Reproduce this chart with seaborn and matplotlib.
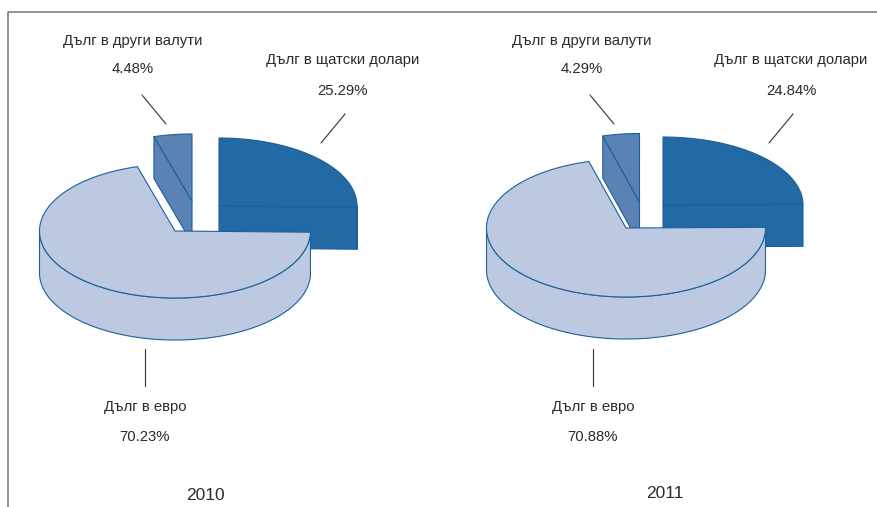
# python

import numpy as np
import matplotlib
matplotlib.use('Agg')
import matplotlib.pyplot as plt
import seaborn as sns

years = ['2010', '2011']
categories = ['Дълг в щатски долари', 'Дълг в евро', 'Дълг в други валути']
shares_2010 = [25.29, 70.23, 4.48]
shares_2011 = [24.84, 70.88, 4.29]

# layout of the picture, in pixels: centre x, centre y, radius x, radius y
geometry_2010 = [(219, 206, 138, 68), (175, 231, 135.5, 67), (192, 201, 137, 67)]
geometry_2011 = [(663, 205, 140, 68), (626, 228, 139.5, 69), (639.5, 202, 138, 68.5)]
depth = 42
colors = ['#2369a4', '#bcc9e1', '#5b82b5']
edge_color = '#1c609c'
text_color = '#2b2b2b'


def arc(cx, cy, rx, ry, start, end):
    # angles run clockwise from north
    theta = np.radians(np.linspace(start, end, 120))
    return cx + rx*np.sin(theta), cy - ry*np.cos(theta)


def point(cx, cy, rx, ry, angle):
    theta = np.radians(angle)
    return cx + rx*np.sin(theta), cy - ry*np.cos(theta)


def draw_face(ax, xs, ys, color):
    ax.fill(xs, ys, facecolor=color, edgecolor=edge_color, linewidth=0.8, joinstyle='round')


def draw_slice(ax, geom, start, end, color):
    cx, cy, rx, ry = geom
    # cut faces, only where they turn towards the viewer
    if np.sin(np.radians(start)) < -1e-6:
        x, y = point(cx, cy, rx, ry, start)
        draw_face(ax, [cx, x, x, cx], [cy, y, y + depth, cy + depth], color)
    if np.sin(np.radians(end)) > 1e-6:
        x, y = point(cx, cy, rx, ry, end)
        draw_face(ax, [cx, x, x, cx], [cy, y, y + depth, cy + depth], color)
    # curved side
    low, high = max(start, 90), min(end, 270)
    if high > low:
        xs, ys = arc(cx, cy, rx, ry, low, high)
        draw_face(ax, np.r_[xs, xs[::-1]], np.r_[ys, ys[::-1] + depth], color)
    # top
    xs, ys = arc(cx, cy, rx, ry, start, end)
    draw_face(ax, np.r_[cx, xs], np.r_[cy, ys], color)


def draw_pie(ax, shares, geometry):
    angles = np.r_[0, np.cumsum(shares)]*360/np.sum(shares)
    # back slices first, the euro slice sits in front
    for i in [2, 0, 1]:
        draw_slice(ax, geometry[i], angles[i], angles[i + 1], colors[i])


sns.set_theme(style='white')
plt.rcParams['font.family'] = ['Liberation Sans', 'DejaVu Sans']

fig = plt.figure(figsize=(8.77, 5.07), dpi=100)
ax = fig.add_axes([0, 0, 1, 1])
ax.set_xlim(0, 877)
ax.set_ylim(507, 0)
ax.axis('off')

ax.plot([8, 8, 877], [507, 12, 12], color='#808080', linewidth=1.2)

draw_pie(ax, shares_2010, geometry_2010)
draw_pie(ax, shares_2011, geometry_2011)

# label centres and leader lines per slice
label_pos = {
    '2010': [(343, 60, 91), (145, 407, 437), (133, 41, 69)],
    '2011': [(791, 60, 91), (593, 407, 437), (582, 41, 69)],
}
leaders = {
    '2010': [((345, 321), (114, 143)), ((145, 145), (349, 386)), ((142, 166), (95, 124))],
    '2011': [((793, 769), (114, 143)), ((593, 593), (349, 386)), ((590, 614), (95, 124))],
}
year_pos = [(205, 496), (665, 493)]

for year, shares, pos in zip(years, [shares_2010, shares_2011], year_pos):
    for name, share, (x, y1, y2), (lx, ly) in zip(categories, shares, label_pos[year], leaders[year]):
        ax.text(x, y1, name, ha='center', va='center', fontsize=10.7, color=text_color)
        ax.text(x, y2, '{0:.2f}%'.format(share), ha='center', va='center', fontsize=10.7, color=text_color)
        ax.plot(lx, ly, color='#333333', linewidth=0.8)
    ax.text(pos[0], pos[1], year, ha='center', va='center', fontsize=12.5, color=text_color)

fig.savefig('out.png', dpi=100)
